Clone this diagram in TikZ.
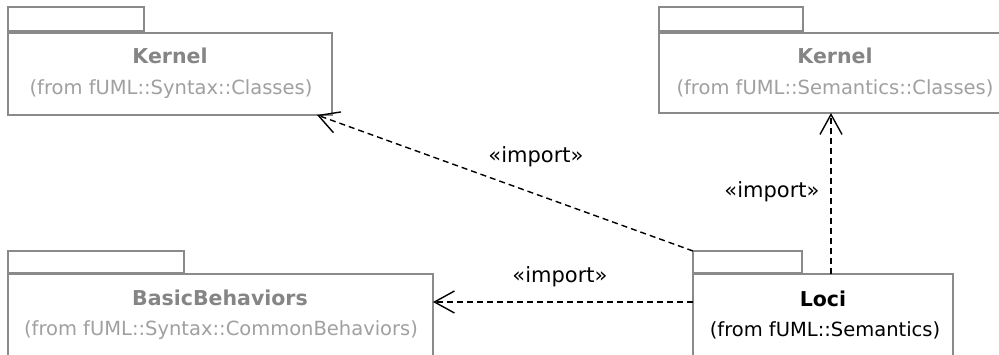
\documentclass[tikz,border=0pt]{standalone}
\usepackage{fontspec}
\setmainfont{DejaVu Sans}
\usetikzlibrary{arrows.meta}
\definecolor{pkgline}{HTML}{8A8A8A}
\definecolor{ttlgray}{HTML}{858585}
\definecolor{subgray}{HTML}{A0A0A0}
\tikzset{
  pkgtab/.style={draw=pkgline, line width=1.5pt, rectangle, outer sep=0pt, inner sep=0pt, anchor=north west},
  pkgbody/.style={draw=pkgline, line width=1.5pt, rectangle, outer sep=0pt, inner sep=0pt, anchor=north west, fill=white},
  ttl/.style={anchor=base, inner sep=0pt, font=\fontsize{20.5}{24}\selectfont\bfseries, text=ttlgray},
  ttlown/.style={ttl, text=black},
  subttl/.style={anchor=base, inner sep=0pt, font=\fontsize{19.5}{24}\selectfont, text=subgray},
  subown/.style={subttl, text=black},
  imp/.style={draw=black, line width=1.4pt, dash pattern=on 6pt off 4pt, -{Straight Barb[length=20pt,width=22pt,line width=1.4pt]}},
  implbl/.style={inner sep=0pt, font=\fontsize{21}{24}\selectfont, text=black}
}
\begin{document}
\begin{tikzpicture}[x=1pt,y=-1pt]
\useasboundingbox (0,0) rectangle (999,354);
\clip (0,0) rectangle (999,354);
\fill[white] (0,0) rectangle (999,354);

% Kernel (Syntax)
\node[pkgtab, minimum width=136pt, minimum height=24pt] (k1tab) at (8,7) {};
\node[pkgbody, minimum width=324pt, minimum height=82pt] (k1body) at (8,33) {};
\node[ttl] (k1t) at (170,63) {Kernel};
\node[subttl] (k1s) at (171,94) {(from fUML::Syntax::Classes)};

% Kernel (Semantics)
\node[pkgtab, minimum width=144pt, minimum height=24pt] (k2tab) at (659,7) {};
\node[pkgbody, minimum width=360pt, minimum height=80pt] (k2body) at (659,33) {};
\node[ttl] (k2t) at (835,63) {Kernel};
\node[subttl] (k2s) at (835,94) {(from fUML::Semantics::Classes)};

% BasicBehaviors
\node[pkgtab, minimum width=176pt, minimum height=22pt] (bbtab) at (8,251) {};
\node[pkgbody, minimum width=425pt, minimum height=120pt] (bbbody) at (8,274) {};
\node[ttl] (bbt) at (220,305) {BasicBehaviors};
\node[subttl] (bbs) at (221,335) {(from fUML::Syntax::CommonBehaviors)};

% Loci
\node[pkgtab, minimum width=109pt, minimum height=22pt] (lotab) at (693,251) {};
\node[pkgbody, minimum width=260pt, minimum height=120pt] (lobody) at (693,274) {};
\node[ttlown] (lot) at (823,306) {Loci};
\node[subown] (los) at (825,336) {(from fUML::Semantics)};

% connectors
\coordinate (a1e) at ([xshift=-15pt]k1body.south east);
\draw[imp] (lotab.north west) -- (a1e);
\coordinate (a2s) at ([yshift=-28pt]lobody.north west);
\draw[imp] (a2s) -- (a2s -| bbbody.east);
\coordinate (a3s) at ([xshift=138pt]lobody.north west);
\draw[imp] (a3s) -- (a3s |- k2body.south);

% labels
\node[implbl] (l1) at (536,157) {«import»};
\node[implbl] (l2) at (560,277) {«import»};
\node[implbl] (l3) at (772,192) {«import»};
\end{tikzpicture}
\end{document}
